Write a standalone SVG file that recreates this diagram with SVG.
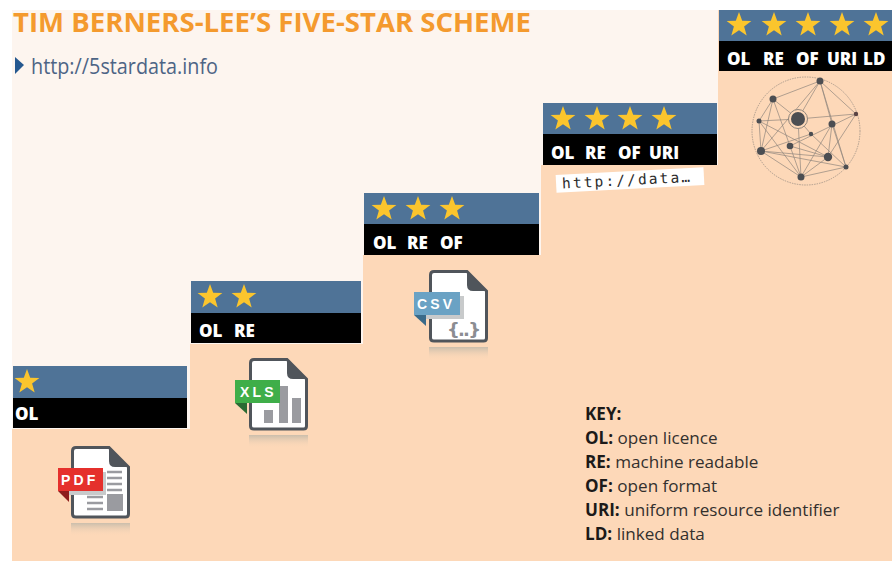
<svg xmlns="http://www.w3.org/2000/svg" width="892" height="561" viewBox="0 0 892 561">
<style>
.blue{fill:#4f7397}.black{fill:#000}
.lab{font-family:"Open Sans","Liberation Sans",sans-serif;font-weight:800;font-size:17px;fill:#fff}
.key{font-family:"Open Sans","Liberation Sans",sans-serif;font-size:17.1px;fill:#33302e}
.key tspan{font-weight:700;fill:#1c1a19}
.ban{font-family:"Liberation Sans",sans-serif;font-weight:700;font-size:14px;letter-spacing:3.2px;fill:#fff}
.e{stroke:#8f857c;stroke-width:.7;fill:none}
.n{fill:#4c4e52}
.bar{fill:#9a9ba0}
</style>
<defs>
<path id="star" d="M0,-13 L3.2,-4.2 L12.4,-4 L5.1,1.6 L7.7,10.5 L0,5.2 L-7.7,10.5 L-5.1,1.6 L-12.4,-4 L-3.2,-4.2 Z" fill="#fbc52d"/>
<linearGradient id="sh" x1="0" y1="0" x2="0" y2="1"><stop offset="0" stop-color="#a8aca4" stop-opacity=".6"/><stop offset="1" stop-color="#ffd9b8" stop-opacity="0"/></linearGradient>
<g id="doc">
<rect x="0" y="77" width="59" height="13" fill="url(#sh)"/>
<path d="M5,1.5 H38 L57.5,21 V68 Q57.5,71 54.5,71 H5 Q1.5,71 1.5,68 V5 Q1.5,1.5 5,1.5 Z" fill="#fff" stroke="#50555b" stroke-width="3"/>
<path d="M38,1.5 L57.5,21 H44 Q38,21 38,15 Z" fill="#50555b"/>
</g>
</defs>
<rect width="892" height="561" fill="#fff"/>
<rect x="12" y="10" width="880" height="551" fill="#fdf5ef"/>
<path d="M12,561 V429 H190 V344 H363 V255 H541 V165 H718 V10 H892 V561 Z" fill="#fdd8b8"/>
<g id="title">
<text x="13" y="32" font-family="'Open Sans','Liberation Sans',sans-serif" font-weight="700" font-size="27px" fill="#f49a2e" textLength="518" lengthAdjust="spacingAndGlyphs">TIM BERNERS-LEE’S FIVE-STAR SCHEME</text>
<path d="M15,57 L24,65 L15,74 Z" fill="#25588f"/>
<text x="31" y="74" font-family="'Open Sans','Liberation Sans',sans-serif" font-size="21px" fill="#4d6485" textLength="187" lengthAdjust="spacingAndGlyphs">http://5stardata.info</text>
</g>
<g id="step1">
<rect class="blue" x="13" y="366" width="174" height="32"/><rect class="black" x="13" y="398" width="174" height="30"/>
<use href="#star" x="27" y="382"/>
<text class="lab" x="15" y="420">OL</text>
</g>
<g id="step2">
<rect class="blue" x="191" y="281" width="170" height="32"/><rect class="black" x="191" y="313" width="170" height="30"/>
<use href="#star" x="210" y="297"/><use href="#star" x="244" y="297"/>
<text class="lab" x="199" y="337">OL</text><text class="lab" x="234" y="337">RE</text>
</g>
<g id="step3">
<rect class="blue" x="364" y="193" width="175" height="31"/><rect class="black" x="364" y="224" width="175" height="31"/>
<use href="#star" x="384" y="209"/><use href="#star" x="418" y="209"/><use href="#star" x="452" y="209"/>
<text class="lab" x="373" y="249">OL</text><text class="lab" x="407" y="249">RE</text><text class="lab" x="440" y="249">OF</text>
</g>
<g id="step4">
<rect class="blue" x="543" y="103" width="174" height="31"/><rect class="black" x="543" y="134" width="174" height="31"/>
<use href="#star" x="563" y="119"/><use href="#star" x="597" y="119"/><use href="#star" x="630" y="119"/><use href="#star" x="664" y="119"/>
<text class="lab" x="551" y="159">OL</text><text class="lab" x="585" y="159">RE</text><text class="lab" x="618" y="159">OF</text><text class="lab" x="649" y="159">URI</text>
<g transform="rotate(-3 630 180)">
<rect x="556" y="171" width="148" height="18" fill="#fff"/>
<text x="562" y="185" font-family="'DejaVu Sans Mono','Liberation Mono',monospace" font-size="14.5px" fill="#2c2c2c" textLength="128">http://data…</text>
</g>
</g>
<g id="step5">
<rect class="blue" x="719" y="10" width="173" height="31"/><rect class="black" x="719" y="41" width="173" height="30"/>
<use href="#star" x="739" y="25"/><use href="#star" x="774" y="25"/><use href="#star" x="808" y="25"/><use href="#star" x="842" y="25"/><use href="#star" x="876" y="25"/>
<text class="lab" x="727" y="65">OL</text><text class="lab" x="763" y="65">RE</text><text class="lab" x="796" y="65">OF</text><text class="lab" x="827" y="65">URI</text><text class="lab" x="863" y="65">LD</text>
</g>
<g id="pdf-icon">
<use href="#doc" x="71" y="446"/>
<path d="M107,472 H122 M107,478 H122 M107,484 H122 M107,490 H122 M87,497 H103 M87,503 H103 M87,509 H103" stroke="#9a9ba0" stroke-width="2.5"/>
<rect class="bar" x="107" y="494" width="16" height="17"/>
<rect x="62" y="472" width="44" height="23" fill="#c8cacb"/>
<path d="M58,491 L69,502 V491 Z" fill="#8e1c1c"/>
<rect x="58" y="468" width="45" height="23" fill="#e5302c"/>
<text class="ban" x="61" y="485">PDF</text>
</g>
<g id="xls-icon">
<use href="#doc" x="249" y="358"/>
<rect class="bar" x="264" y="410" width="9" height="13"/><rect class="bar" x="279" y="386" width="9" height="37"/><rect class="bar" x="292" y="398" width="9" height="25"/>
<path d="M235,403 L247,414 V403 Z" fill="#2b6b33"/>
<rect x="235" y="380" width="45" height="23" fill="#3fae49"/>
<text class="ban" x="240" y="397">XLS</text>
</g>
<g id="csv-icon">
<use href="#doc" x="429" y="270"/>
<rect x="418" y="296" width="46" height="23" fill="#c8cacb"/>
<path d="M414,315 L426,326 V315 Z" fill="#3a6a89"/>
<rect x="414" y="292" width="46" height="23" fill="#6aa2c4"/>
<text class="ban" x="417" y="309">CSV</text>
<text x="447" y="336" font-family="'DejaVu Sans','Liberation Sans',sans-serif" font-weight="700" font-size="18px" fill="#8b8d92" textLength="34">{..}</text>
</g>
<g id="network">
<circle class="e" cx="806" cy="131" r="54" stroke-dasharray="1.5 1"/>
<path class="e" d="M820,81 L773,99 M820,81 L798,119 M820,81 L856,114 M820,81 L832,124 M820,81 L761,151 M820,81 L846,167 M773,99 L759,121 M773,99 L798,119 M773,99 L790,146 M773,99 L761,151 M759,121 L798,119 M759,121 L761,151 M759,121 L828,157 M759,121 L801,177 M798,119 L856,114 M798,119 L801,177 M798,119 L811,134 M856,114 L828,157 M856,114 L790,146 M832,124 L828,157 M832,124 L846,167 M832,124 L801,177 M811,134 L761,151 M811,134 L846,167 M790,146 L828,157 M790,146 L801,177 M761,151 L801,177 M761,151 L828,157 M828,157 L801,177 M846,167 L801,177 M846,167 L761,151"/>
<circle cx="798" cy="119" r="9.5" fill="#fdd8b8" stroke="#8f857c" stroke-width="1"/>
<circle class="n" cx="798" cy="119" r="7"/><circle class="n" cx="820" cy="81" r="3.5"/><circle class="n" cx="773" cy="99" r="3.5"/><circle class="n" cx="759" cy="121" r="2.5"/><circle cx="856" cy="114" r="2.2" fill="#5a4344"/><circle class="n" cx="832" cy="124" r="3.5"/><circle class="n" cx="811" cy="134" r="2.2"/><circle class="n" cx="790" cy="146" r="3.3"/><circle class="n" cx="761" cy="151" r="4"/><circle class="n" cx="828" cy="157" r="4.2"/><circle class="n" cx="846" cy="167" r="2.5"/><circle class="n" cx="801" cy="177" r="3.5"/>
</g>
<g id="key">
<text class="key" x="585" y="420"><tspan>KEY:</tspan></text>
<text class="key" x="585" y="444"><tspan>OL:</tspan> open licence</text>
<text class="key" x="585" y="468"><tspan>RE:</tspan> machine readable</text>
<text class="key" x="585" y="492"><tspan>OF:</tspan> open format</text>
<text class="key" x="585" y="516"><tspan>URI:</tspan> uniform resource identifier</text>
<text class="key" x="585" y="540"><tspan>LD:</tspan> linked data</text>
</g>
</svg>
